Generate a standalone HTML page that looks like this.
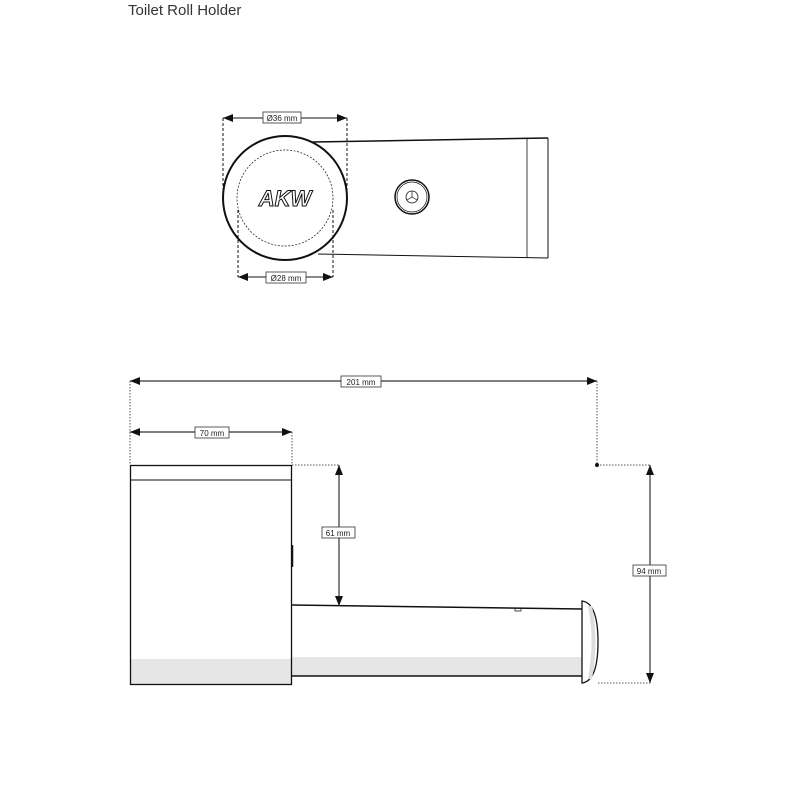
<!DOCTYPE html>
<html><head><meta charset="utf-8"><style>
html,body{margin:0;padding:0;background:#fff;}
svg{display:block;}
text{font-family:"Liberation Sans",sans-serif;}
</style></head><body>
<svg width="795" height="795" viewBox="0 0 795 795" xmlns="http://www.w3.org/2000/svg">
<defs>
<marker id="a" markerWidth="10" markerHeight="8" refX="10" refY="4" orient="auto-start-reverse" markerUnits="userSpaceOnUse"><path d="M0,0 L10,4 L0,8 Z" fill="#111"/></marker>
</defs>
<text x="128" y="15" font-size="15" fill="#333">Toilet Roll Holder</text>

<!-- top view -->
<g fill="none" stroke="#111">
<line x1="313" y1="142" x2="548" y2="138" stroke-width="1.5"/>
<line x1="318" y1="254" x2="548" y2="258" stroke-width="1"/>
<line x1="527" y1="138" x2="527" y2="258" stroke-width="0.8"/>
<line x1="548" y1="138" x2="548" y2="258" stroke-width="1"/>
<circle cx="285" cy="198" r="62" fill="#fff" stroke-width="2"/>
<circle cx="285" cy="198" r="48" stroke-width="0.7" stroke-dasharray="2,1.5"/>
<circle cx="412" cy="197" r="17" stroke-width="1.5"/>
<circle cx="412" cy="197" r="15" stroke-width="0.7"/>
<circle cx="412" cy="197" r="6" stroke-width="0.8"/>
<path d="M412,191 L412,197 L407,200 M412,197 L417,200" stroke-width="0.7"/>
<g stroke-width="1" stroke-dasharray="3,2">
<line x1="223" y1="118" x2="223" y2="200"/>
<line x1="347" y1="118" x2="347" y2="200"/>
<line x1="238" y1="210" x2="238" y2="277"/>
<line x1="333" y1="210" x2="333" y2="277"/>
</g>
<line x1="223" y1="118" x2="347" y2="118" stroke-width="1" marker-start="url(#a)" marker-end="url(#a)"/>
<line x1="238" y1="277" x2="333" y2="277" stroke-width="1" marker-start="url(#a)" marker-end="url(#a)"/>
</g>
<text x="285" y="206" font-size="22" font-style="italic" font-weight="bold" text-anchor="middle" fill="#fff" stroke="#111" stroke-width="1">AKW</text>
<rect x="263" y="112" width="38" height="11" fill="#fff" stroke="#333" stroke-width="0.8"/>
<text x="282" y="121" font-size="8" text-anchor="middle" fill="#222">Ø36 mm</text>
<rect x="266" y="272" width="40" height="11" fill="#fff" stroke="#333" stroke-width="0.8"/>
<text x="286" y="281" font-size="8" text-anchor="middle" fill="#222">Ø28 mm</text>

<!-- side view -->
<rect x="131" y="659" width="161" height="26" fill="#e6e6e6"/>
<rect x="292" y="657" width="290" height="19" fill="#e6e6e6"/>
<g fill="none" stroke="#111">
<rect x="130.5" y="465.5" width="161" height="219" stroke-width="1.3"/>
<line x1="131" y1="480" x2="292" y2="480" stroke-width="1"/>
<line x1="292" y1="605" x2="582" y2="609" stroke-width="1.5"/>
<line x1="292" y1="676" x2="582" y2="676" stroke-width="1.5"/>
<line x1="292.5" y1="545" x2="292.5" y2="567" stroke-width="1.5"/>
<path d="M515,608 v3 h6 v-3" stroke-width="0.7"/>
<path d="M582,601 Q598,603 598,642 Q598,681 582,683 Z" fill="#fff" stroke-width="1.3"/>
<path d="M590,606 Q597,640 590,679" stroke="#ddd" stroke-width="4"/>
<g stroke="#555" stroke-width="1" stroke-dasharray="1.5,1.5">
<line x1="130" y1="381" x2="130" y2="465"/>
<line x1="292" y1="432" x2="292" y2="465"/>
<line x1="597" y1="381" x2="597" y2="465"/>
<line x1="292" y1="465" x2="339" y2="465"/>
<line x1="597" y1="465" x2="650" y2="465"/>
<line x1="598" y1="683" x2="650" y2="683"/>
</g>
<line x1="130" y1="381" x2="597" y2="381" stroke="#333" stroke-width="1.2" marker-start="url(#a)" marker-end="url(#a)"/>
<line x1="130" y1="432" x2="292" y2="432" stroke="#333" stroke-width="1.2" marker-start="url(#a)" marker-end="url(#a)"/>
<line x1="339" y1="465" x2="339" y2="606" stroke="#333" stroke-width="1.2" marker-start="url(#a)" marker-end="url(#a)"/>
<line x1="650" y1="465" x2="650" y2="683" stroke="#333" stroke-width="1.2" marker-start="url(#a)" marker-end="url(#a)"/>
</g>
<circle cx="597" cy="465" r="2" fill="#111"/>
<rect x="341" y="376" width="40" height="11" fill="#fff" stroke="#333" stroke-width="0.8"/>
<text x="361" y="385" font-size="8" text-anchor="middle" fill="#222">201 mm</text>
<rect x="195" y="427" width="34" height="11" fill="#fff" stroke="#333" stroke-width="0.8"/>
<text x="212" y="436" font-size="8" text-anchor="middle" fill="#222">70 mm</text>
<rect x="322" y="527" width="33" height="11" fill="#fff" stroke="#333" stroke-width="0.8"/>
<text x="338" y="536" font-size="8" text-anchor="middle" fill="#222">61 mm</text>
<rect x="633" y="565" width="33" height="11" fill="#fff" stroke="#333" stroke-width="0.8"/>
<text x="649" y="574" font-size="8" text-anchor="middle" fill="#222">94 mm</text>
</svg>
</body></html>
